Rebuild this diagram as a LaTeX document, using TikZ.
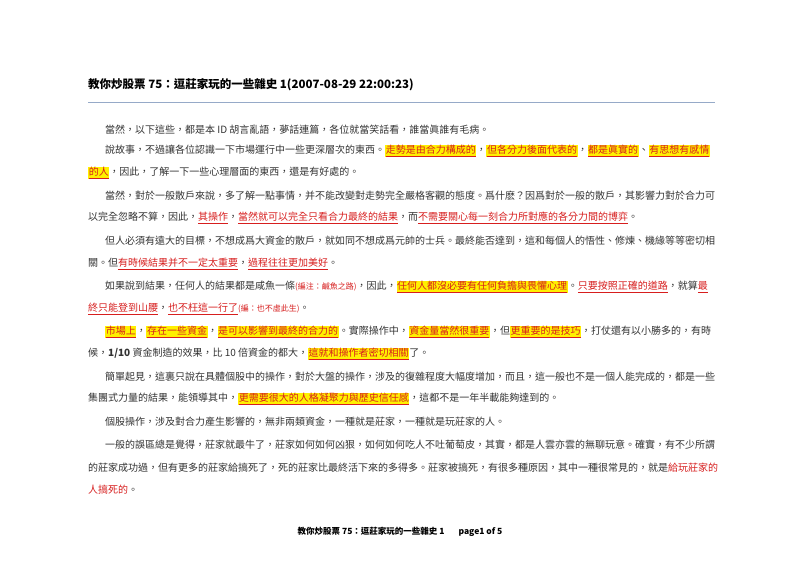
\documentclass[tikz,border=0pt]{standalone}
\usepackage{fontspec}
\setmainfont{Noto Sans CJK TC}
\XeTeXlinebreaklocale "zh"
\XeTeXlinebreakskip=0pt plus 2pt
\definecolor{hlyellow}{RGB}{255,240,0}
\definecolor{hlred}{RGB}{215,30,30}
\definecolor{rulecol}{RGB}{150,170,200}
\newcommand{\hlt}[1]{{\fboxsep=0.6pt\colorbox{hlyellow}{\color{hlred}\underline{#1}}}}
\newcommand{\rul}[1]{{\color{hlred}\underline{#1}}}
\newcommand{\rtx}[1]{{\color{hlred}#1}}
\newcommand{\full}[1]{\hbox to 627pt{#1}}
\newcommand{\fulli}[1]{\hbox to 610pt{#1}}
\begin{document}
\begin{tikzpicture}[x=1pt,y=-1pt,
  line/.style={anchor=west,inner sep=0pt,font=\fontsize{10}{12}\selectfont,text=black!80}]

\useasboundingbox[fill=white] (0,0) rectangle (800,566);

\node[anchor=west,inner sep=0pt,font=\fontsize{11.5}{13}\selectfont\bfseries] (title) at (88,85)
  {教你炒股票 75：逗莊家玩的一些雜史 1(2007-08-29 22:00:23)};
\draw[rulecol,line width=1pt] (88,102) -- (715,102);

\node[line] (l1) at (105,130) {當然，以下這些，都是本 ID 胡言亂語，夢話連篇，各位就當笑話看，誰當眞誰有毛病。};
\node[line] (l2) at (105,151) {\fulli{說故事，不過讓各位認識一下市場運行中一些更深層次的東西。\hlt{走勢是由合力構成的}，\hlt{但各分力後面代表的}，\hlt{都是眞實的}、\hlt{有思想有感情}}};
\node[line] (l3) at (88,173) {\hlt{的人}，因此，了解一下一些心理層面的東西，還是有好處的。};

\node[line] (l4) at (105,196) {\fulli{當然，對於一般散戶來說，多了解一點事情，并不能改變對走勢完全嚴格客觀的態度。爲什麽？因爲對於一般的散戶，其影響力對於合力可}};
\node[line] (l5) at (88,218) {以完全忽略不算，因此，\rul{其操作}，\rul{當然就可以完全只看合力最終的結果}，而\rul{不需要關心每一刻合力所對應的各分力間的博弈}。};

\node[line] (l6) at (105,241) {\fulli{但人必須有遠大的目標，不想成爲大資金的散戶，就如同不想成爲元帥的士兵。最終能否達到，這和每個人的悟性、修煉、機緣等等密切相}};
\node[line] (l7) at (88,264) {關。但\rul{有時候結果并不一定太重要}，\rul{過程往往更加美好}。};

\node[line] (l8) at (105,287) {\fulli{如果說到結果，任何人的結果都是咸魚一條\rtx{\fontsize{8}{9}\selectfont(編注：鹹魚之路)}，因此，\hlt{任何人都沒必要有任何負擔與畏懼心理}。\rul{只要按照正確的道路}，就算\rul{最}}};
\node[line] (l9) at (88,309) {\rul{終只能登到山腰}，\rul{也不枉這一行了}\rtx{\fontsize{8}{9}\selectfont(編：也不虛此生)}。};

\node[line] (l10) at (105,332) {\fulli{\hlt{市場上}，\hlt{存在一些資金}，\hlt{是可以影響到最終的合力的}。實際操作中，\hlt{資金量當然很重要}，但\hlt{更重要的是技巧}，打仗還有以小勝多的，有時}};
\node[line] (l11) at (88,354) {候，\textbf{1/10} 資金制造的效果，比 10 倍資金的都大，\hlt{這就和操作者密切相關}了。};

\node[line] (l12) at (105,377) {\fulli{簡單起見，這裏只說在具體個股中的操作，對於大盤的操作，涉及的復雜程度大幅度增加，而且，這一般也不是一個人能完成的，都是一些}};
\node[line] (l13) at (88,399) {集團式力量的結果，能領導其中，\hlt{更需要很大的人格凝聚力與歷史信任感}，這都不是一年半載能夠達到的。};

\node[line] (l14) at (105,422) {個股操作，涉及對合力產生影響的，無非兩類資金，一種就是莊家，一種就是玩莊家的人。};

\node[line] (l15) at (105,445) {\fulli{一般的誤區總是覺得，莊家就最牛了，莊家如何如何凶狠，如何如何吃人不吐葡萄皮，其實，都是人雲亦雲的無聊玩意。確實，有不少所謂}};
\node[line] (l16) at (88,468) {\full{的莊家成功過，但有更多的莊家給搞死了，死的莊家比最終活下來的多得多。莊家被搞死，有很多種原因，其中一種很常見的，就是\rtx{給玩莊家的}}};
\node[line] (l17) at (88,490) {\rtx{人搞死的}。};

\node[inner sep=0pt,font=\fontsize{8.5}{10}\selectfont\bfseries] (foot) at (400,532)
  {教你炒股票 75：逗莊家玩的一些雜史 1\hspace{14pt}page1 of 5};

\end{tikzpicture}
\end{document}
